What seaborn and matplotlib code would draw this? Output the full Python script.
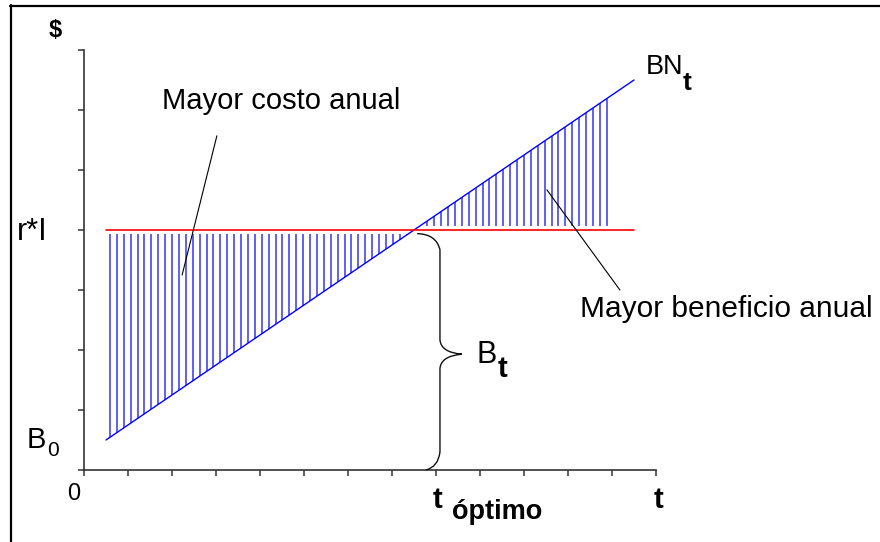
import numpy as np
import pandas as pd
import matplotlib
matplotlib.use("Agg")
import matplotlib.pyplot as plt
from matplotlib.path import Path
from matplotlib.patches import PathPatch
from matplotlib.lines import Line2D
import seaborn as sns

# Project horizon and the two annual quantities being compared
t_span = [0.5, 12.5]
bn_values = [0.5, 6.5]       # net annual benefit BN_t (linear growth)
ri_values = [4.0, 4.0]       # annual capital cost r*I
t_opt = 7.5                  # BN_t meets r*I here
hatch_start, hatch_end, n_hatch = 0.59, 11.88, 73

x_ticks = list(range(0, 14))
y_ticks = list(range(0, 8))

sns.set_style("ticks")
plt.rcParams["font.family"] = ["Liberation Sans", "DejaVu Sans"]

W, H = 880, 542
fig = plt.figure(figsize=(W / 100, H / 100), dpi=100)
ax = fig.add_axes([84 / W, 72 / H, 572 / W, 420 / H])

df = pd.DataFrame({
    "t": t_span * 2,
    "valor": bn_values + ri_values,
    "serie": ["BN"] * 2 + ["rI"] * 2,
})

# hatching between the benefit line and the cost line
rI = ri_values[0]
gap = 0.07
hx = np.linspace(hatch_start, hatch_end, n_hatch)
hb = np.interp(hx, t_span, bn_values)
lo = np.where(hb < rI, hb, rI + gap)
hi = np.where(hb < rI, rI - gap, hb)
keep = hi > lo
ax.vlines(hx[keep], lo[keep], hi[keep], colors="#4646ee", lw=1.2, zorder=1)

sns.lineplot(data=df, x="t", y="valor", hue="serie",
             palette={"BN": "#0000ff", "rI": "#ff0000"},
             linewidth=1.0, legend=False, ax=ax, zorder=3)
ax.lines[-1].set_linewidth(1.2)

ax.set_xlim(0, 13)
ax.set_ylim(0, 7)
ax.set_xticks(x_ticks)
ax.set_yticks(y_ticks)
ax.set_xticklabels([])
ax.set_yticklabels([])
ax.set_xlabel("")
ax.set_ylabel("")
for s in ("top", "right"):
    ax.spines[s].set_visible(False)
for s in ("left", "bottom"):
    ax.spines[s].set_color("#333333")
    ax.spines[s].set_linewidth(1.2)
ax.tick_params(axis="both", direction="out", length=4.5, width=1.1, color="#333333")
ax.patch.set_alpha(0)

# curly brace marking B_t at the optimum
x0, xm, xt = t_opt + 0.07, t_opt + 0.59, t_opt + 1.09
ymid = 1.93
verts = [
    (x0, rI - 0.06), (xm - 0.08, rI - 0.07), (xm, rI - 0.33),
    (xm, ymid + 0.24),
    (xm + 0.02, ymid + 0.03), (xt, ymid),
    (xm + 0.02, ymid - 0.03), (xm, ymid - 0.24),
    (xm, 0.3),
    (xm - 0.04, 0.05), (x0 + 0.2, 0.0),
]
codes = [Path.MOVETO, Path.CURVE3, Path.CURVE3, Path.LINETO,
         Path.CURVE3, Path.CURVE3, Path.CURVE3, Path.CURVE3,
         Path.LINETO, Path.CURVE3, Path.CURVE3]
ax.add_patch(PathPatch(Path(verts, codes), fill=False, lw=1.0,
                       edgecolor="#111111", clip_on=False, zorder=4))

# leader lines for the two shaded regions
ax.plot([3.02, 2.23], [5.57, 3.25], color="black", lw=0.8, clip_on=False, zorder=4)
ax.plot([10.52, 12.18], [4.67, 3.0], color="black", lw=0.8, clip_on=False, zorder=4)

txt = dict(color="black", clip_on=False)
ax.text(1.77, 6.02, "Mayor costo anual", fontsize=21, ha="left", va="baseline", **txt)
ax.text(11.27, 2.55, "Mayor beneficio anual", fontsize=21.5, ha="left", va="baseline", **txt)
ax.text(-0.66, 7.32, "$", fontsize=17, fontweight="bold", ha="center", va="center", **txt)
ax.text(-1.18, 3.83, "r*I", fontsize=22, ha="center", va="baseline", **txt)
ax.text(-1.295, 0.367, "B", fontsize=21, ha="left", va="baseline", **txt)
ax.text(-0.84, 0.233, "0", fontsize=15, ha="left", va="baseline", **txt)
ax.text(-0.227, -0.4, "0", fontsize=17, ha="center", va="center", **txt)
ax.text(13.05, -0.633, "t", fontsize=21, fontweight="bold", ha="center", va="baseline", **txt)
ax.text(7.93, -0.633, "t", fontsize=21, fontweight="bold", ha="left", va="baseline", **txt)
ax.text(8.36, -0.82, "óptimo", fontsize=19.5, fontweight="bold", ha="left", va="baseline", **txt)
ax.text(12.77, 6.6, "BN", fontsize=19.5, ha="left", va="baseline", **txt)
ax.text(13.61, 6.33, "t", fontsize=19, fontweight="bold", ha="left", va="baseline", **txt)
ax.text(8.93, 1.78, "B", fontsize=22, ha="left", va="baseline", **txt)
ax.text(9.41, 1.55, "t", fontsize=21, fontweight="bold", ha="left", va="baseline", **txt)

# frame edges along the top and the left
fig.add_artist(Line2D([10 / W, 1.0], [1 - 6 / H, 1 - 6 / H], color="black", lw=1.6))
fig.add_artist(Line2D([11 / W, 11 / W], [0.0, 1 - 5 / H], color="black", lw=1.6))

fig.savefig("out.png", dpi=100)
